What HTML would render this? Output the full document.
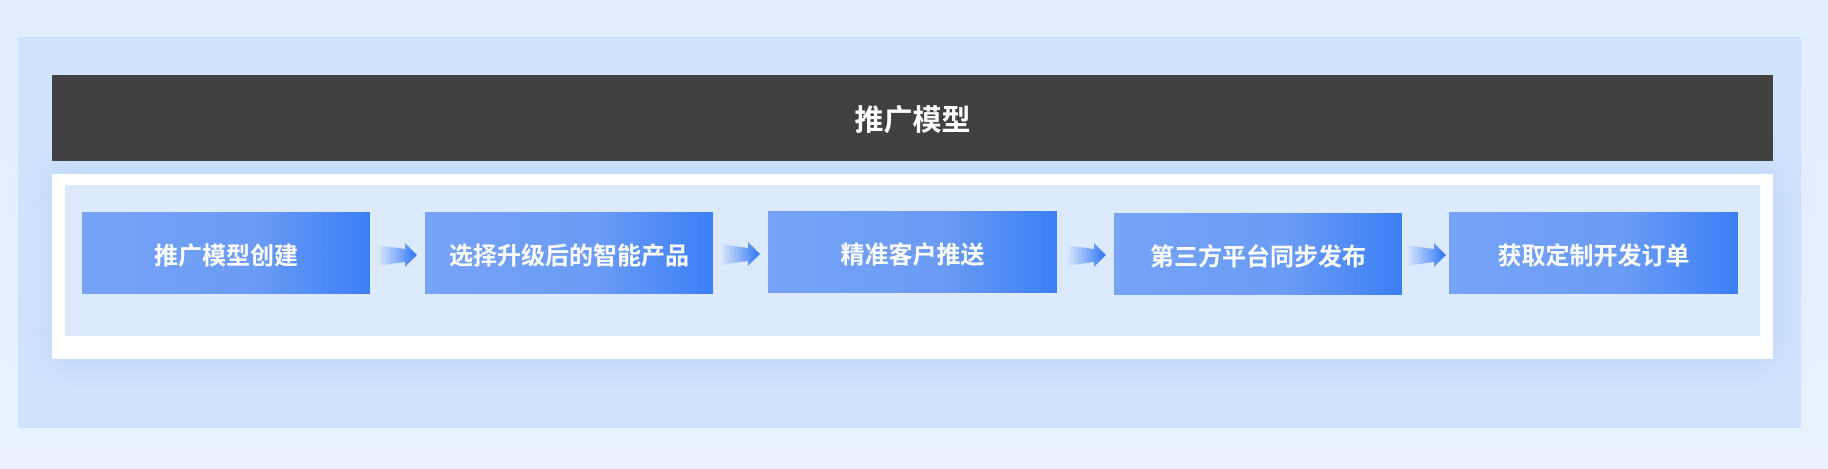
<!DOCTYPE html>
<html><head><meta charset="utf-8"><style>
*{margin:0;padding:0;box-sizing:border-box}
body{width:1828px;height:469px;overflow:hidden;background:linear-gradient(#e2eefe,#e9f2fe);position:relative;font-family:"Liberation Sans","Noto Sans CJK SC",sans-serif}
.a{position:absolute}
.outer{left:18px;top:37px;width:1783px;height:391px;background:#d1e2fd;overflow:hidden}
.head{left:52px;top:75px;width:1721px;height:86px;background:#414141;color:#fff;font-size:29px;font-weight:bold;display:flex;align-items:center;justify-content:center}
.white{left:52px;top:174px;width:1721px;height:185px;background:#fff;box-shadow:0 0 30px 6px rgba(185,210,252,.7)}
.inner{left:65px;top:185px;width:1695px;height:151px;background:#dde9fd}
.box{height:82px;background:linear-gradient(90deg,#76a3f6,#6b9bf5 60%,#3b7ff6);color:#fff;font-size:24px;font-weight:bold;display:flex;align-items:center;justify-content:center}
</style></head><body>
<div class="a outer"></div>
<div class="a white"></div>
<div class="a head">推广模型</div>
<div class="a inner"></div>
<div class="a box" style="left:82px;top:212px;width:288px">推广模型创建</div>
<div class="a box" style="left:425px;top:212px;width:288px">选择升级后的智能产品</div>
<div class="a box" style="left:768px;top:211px;width:289px">精准客户推送</div>
<div class="a box" style="left:1114px;top:213px;width:288px">第三方平台同步发布</div>
<div class="a box" style="left:1449px;top:212px;width:289px">获取定制开发订单</div>
<svg class="a" style="left:0;top:0" width="1828" height="469">
<defs><linearGradient id="g" x1="0" x2="1"><stop offset="0" stop-color="#3b7ff6" stop-opacity="0"/><stop offset="1" stop-color="#2a74f5"/></linearGradient></defs>
<g fill="url(#g)">
<path d="M377,245 L405,249 L405,243 L417,255 L405,267 L405,262 L377,266 Q383,255 377,245Z"/>
<path d="M720,244 L748,248 L748,242 L760,254 L748,266 L748,261 L720,265 Q726,254 720,244Z"/>
<path d="M1066,245 L1094,249 L1094,243 L1106,255 L1094,267 L1094,262 L1066,266 Q1072,255 1066,245Z"/>
<path d="M1406,245 L1434,249 L1434,243 L1446,255 L1434,267 L1434,262 L1406,266 Q1412,255 1406,245Z"/>
</g></svg>
</body></html>
